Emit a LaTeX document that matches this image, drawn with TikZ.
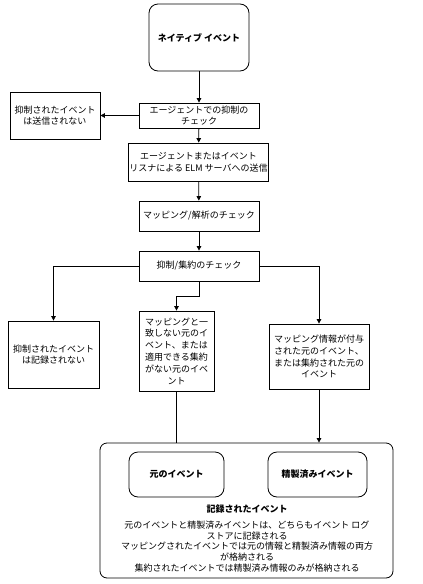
\documentclass[tikz,border=0pt]{standalone}
\usepackage{fontspec}
\setmainfont{Noto Sans CJK JP}
\usetikzlibrary{arrows.meta}
\begin{document}
\begin{tikzpicture}[x=1pt,y=-1pt,
  every node/.style={font=\fontsize{9}{11.8}\selectfont, align=center, inner sep=1pt},
  box/.style={draw, line width=0.8pt, minimum width=#1},
  rbox/.style={draw, line width=0.8pt, rounded corners=9pt},
  arr/.style={-{Triangle[length=4.5pt,width=4.5pt]}, line width=0.8pt},
  ln/.style={line width=0.8pt}]
\useasboundingbox (0,0) rectangle (423,584);
\node[rbox, minimum width=100pt, minimum height=67pt] (native) at (199,37.5) {\bfseries ネイティブ イベント};
\node[box=120pt, minimum height=25pt] (check1) at (199,115.5) {エージェントでの抑制の\\チェック};
\node[box=90pt, minimum height=47pt] (left1) at (55,115.5) {抑制されたイベント\\は送信されない};
\node[box=139pt, minimum height=38pt] (send) at (198.5,162) {エージェントまたはイベント\\リスナによる ELM サーバへの送信};
\node[box=120pt, minimum height=30pt] (map) at (199,216) {マッピング/解析のチェック};
\node[box=120pt, minimum height=30pt] (supp) at (199,266) {抑制/集約のチェック};
\node[box=91pt, minimum height=67pt] (left2) at (53.5,354.5) {抑制されたイベント\\は記録されない};
\node[box=75pt, minimum height=80pt] (mid) at (176.5,351) {マッピングと一\\致しない元のイ\\ベント、または\\適用できる集約\\がない元のイベ\\ント};
\node[box=100pt, minimum height=65pt] (right) at (319,356.5) {マッピング情報が付与\\された元のイベント、\\または集約された元の\\イベント};
\node[draw, line width=0.8pt, rounded corners=7pt, minimum width=293pt, minimum height=135pt] (cont) at (246.5,510.5) {};
\node[rbox, minimum width=95pt, minimum height=45pt] (orig) at (176.5,474.5) {\bfseries 元のイベント};
\node[rbox, minimum width=99pt, minimum height=45pt] (ref) at (317.5,474.5) {\bfseries 精製済みイベント};
\node (title) at (247,509) {\bfseries 記録されたイベント};
\node[font=\fontsize{9}{10.6}\selectfont] (desc) at (247,546.5) {元のイベントと精製済みイベントは、どちらもイベント ログ\\ストアに記録される\\マッピングされたイベントでは元の情報と精製済み情報の両方\\が格納される\\集約されたイベントでは精製済み情報のみが格納される};
\coordinate (bend) at (176.5,296);
\draw[arr] (native) -- (check1);
\draw[arr] (check1) -- (left1);
\draw[arr] (check1) -- (send);
\draw[arr] (send) -- (map);
\draw[arr] (map) -- (supp);
\draw[arr] (supp.west) -| (left2.north);
\draw[arr] (supp.south) |- (bend) -- (mid.north);
\draw[arr] (supp.east) -| (right.north);
\draw[ln] (mid.south) -- (mid.south |- cont.north);
\draw[arr] (right.south) -- (right.south |- cont.north);
\end{tikzpicture}
\end{document}
